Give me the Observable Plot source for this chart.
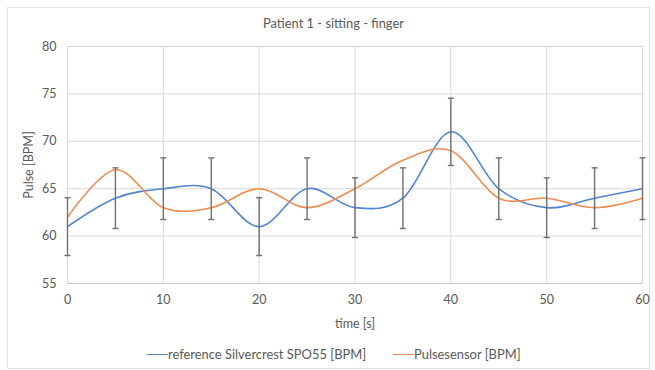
<!DOCTYPE html>
<html><head><meta charset="utf-8">
<script src="https://cdn.jsdelivr.net/npm/d3@7"></script>
<script src="https://cdn.jsdelivr.net/npm/@observablehq/plot@0.6"></script>
<style>
body{margin:0;background:#fff;font-family:Lato,"Open Sans",sans-serif;color:#595959;}
#wrap{position:relative;width:655px;height:370px;overflow:hidden;background:#fff}
#frame{position:absolute;left:7px;top:7px;width:643px;height:362px;border:1px solid #e3e3e3;box-sizing:border-box}
#title{position:absolute;top:15px;left:263px;white-space:nowrap;line-height:16px}
#chart{position:absolute;top:36px;left:0}
#legend{position:absolute;top:346px;left:0;width:655px;height:16px;line-height:16px}
.item{position:absolute;top:0;display:flex;align-items:center;white-space:nowrap}
.sw{display:inline-block;width:21px;height:0;border-top:1.6px solid;margin-right:0}
</style></head>
<body>
<div id="wrap">
  <div id="frame"></div>
  <div id="title">Patient 1 - sitting - finger</div>
  <div id="chart"></div>
  <div id="legend"></div>
</div>
<script>
const times = [0, 5, 10, 15, 20, 25, 30, 35, 40, 45, 50, 55, 60];
const reference = [61, 64, 65, 65, 61, 65, 63, 64, 71, 65, 63, 64, 65];
const pulsesensor = [62, 67, 63, 63, 65, 63, 65, 68, 69, 64, 64, 63, 64];
const errorBar = [3.05, 3.2, 3.25, 3.25, 3.05, 3.25, 3.15, 3.2, 3.55, 3.25, 3.15, 3.2, 3.25];
const xTicks = [0, 10, 20, 30, 40, 50, 60];
const yTicks = [55, 60, 65, 70, 75, 80];
const seriesNames = ["reference Silvercrest SPO55 [BPM]", "Pulsesensor [BPM]"];
const seriesColors = ["#5284d4", "#f08b50"];

const FONT = "Lato, 'Open Sans', sans-serif";
const ctx = document.createElement("canvas").getContext("2d");
function fitSize(text, targetWidth) {
  ctx.font = "100px " + FONT;
  return 100 * targetWidth / ctx.measureText(text).width;
}

const title = document.getElementById("title");
title.style.fontSize = fitSize(title.textContent, 141).toFixed(2) + "px";

const rows = times.map((t, i) => ({t, ref: reference[i], pulse: pulsesensor[i], err: errorBar[i]}));

const cap = {draw(c, size) { c.moveTo(-3, 0); c.lineTo(3, 0); }};

const chart = Plot.plot({
  width: 655,
  height: 300,
  marginTop: 10,
  marginBottom: 53,
  marginLeft: 67,
  marginRight: 13,
  style: {fontFamily: FONT, fontSize: "12.5px", color: "#595959", background: "transparent"},
  x: {domain: [0, 60]},
  y: {domain: [55, 80]},
  marks: [
    Plot.ruleX(xTicks, {stroke: "#d9d9d9", strokeWidth: 1}),
    Plot.ruleY(yTicks, {stroke: "#d9d9d9", strokeWidth: 1}),
    Plot.ruleY([55], {stroke: "#c8c8c8", strokeWidth: 1}),
    Plot.axisX(xTicks, {tickSize: 0, tickPadding: 12, label: "time [s]", labelAnchor: "center", labelArrow: "none", labelOffset: 44}),
    Plot.axisY(yTicks, {tickSize: 0, tickPadding: 11, label: "Pulse [BPM]", labelAnchor: "center", labelArrow: "none", labelOffset: 43}),
    Plot.line(rows, {x: "t", y: "ref", curve: "cardinal", stroke: seriesColors[0], strokeWidth: 1.6}),
    Plot.line(rows, {x: "t", y: "pulse", curve: "cardinal", stroke: seriesColors[1], strokeWidth: 1.6}),
    Plot.link(rows, {x1: "t", x2: "t", y1: d => d.ref - d.err, y2: d => d.ref + d.err, stroke: "#707070", strokeWidth: 1.4}),
    Plot.dot(rows, {x: "t", y: d => d.ref - d.err, symbol: cap, stroke: "#707070", strokeWidth: 1.4, fill: "none", r: 3}),
    Plot.dot(rows, {x: "t", y: d => d.ref + d.err, symbol: cap, stroke: "#707070", strokeWidth: 1.4, fill: "none", r: 3})
  ]
});
document.getElementById("chart").appendChild(chart);

const legend = document.getElementById("legend");
const lefts = [147, 393];
const textWidths = [199, 107];
const legendSize = Math.min(...seriesNames.map((n, i) => fitSize(n, textWidths[i])));
legend.style.fontSize = legendSize.toFixed(2) + "px";
seriesNames.forEach((name, i) => {
  const it = document.createElement("div");
  it.className = "item";
  it.style.left = lefts[i] + "px";
  const sw = document.createElement("span");
  sw.className = "sw";
  sw.style.borderTopColor = seriesColors[i];
  const tx = document.createElement("span");
  tx.textContent = name;
  it.appendChild(sw); it.appendChild(tx);
  legend.appendChild(it);
});
</script>
</body></html>
